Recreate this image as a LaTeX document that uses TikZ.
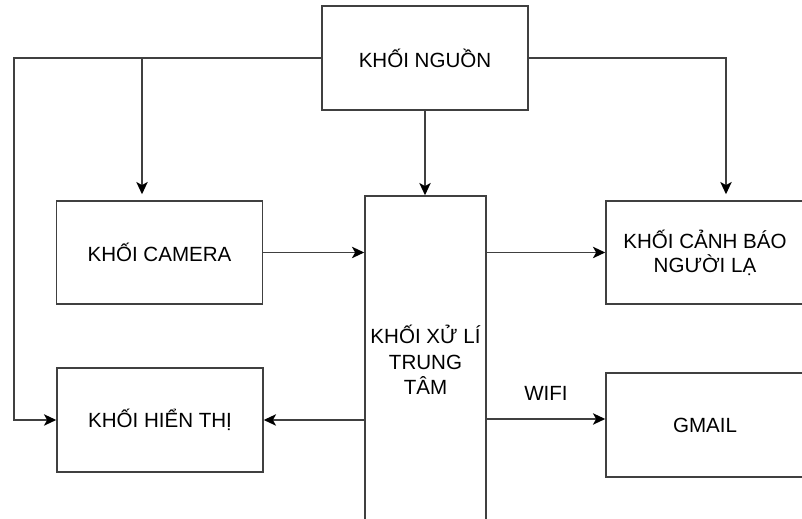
\documentclass[tikz,border=0pt]{standalone}
\usepackage{fontspec}
\setmainfont{Liberation Sans}
\usetikzlibrary{positioning,arrows.meta}

\begin{document}
\begin{tikzpicture}[
  x=0.02cm, y=-0.02cm,
  block/.style={draw=black!75, line width=0.85pt, align=center, inner sep=0pt,
    font=\fontsize{11.7}{14}\selectfont},
  arr/.style={draw=black!75, line width=0.85pt,
    -{Stealth[length=7pt, width=6.5pt, inset=1.8pt, black]}}
]
\useasboundingbox (0,0) rectangle (802,519);
\clip (0,0) rectangle (802,519);
\node[block, minimum width=206*0.02cm, minimum height=104*0.02cm] (nguon) at (425,58) {KHỐI NGUỒN};
\node[block, minimum width=206*0.02cm, minimum height=103*0.02cm] (camera) at (159.5,252.5) {KHỐI CAMERA};
\node[block, minimum width=121*0.02cm, minimum height=328*0.02cm,
  font=\fontsize{11.7}{14.5}\selectfont] (xuli) at (425.5,360) {KHỐI XỬ LÍ\\TRUNG\\TÂM};
\node[block, minimum width=198*0.02cm, minimum height=103*0.02cm,
  font=\fontsize{11.7}{13.6}\selectfont] (canhbao) at (705,252.5) {KHỐI CẢNH BÁO\\NGƯỜI LẠ};
\node[block, minimum width=206*0.02cm, minimum height=104*0.02cm] (hienthi) at (160,420) {KHỐI HIỂN THỊ};
\node[block, minimum width=198*0.02cm, minimum height=104*0.02cm] (gmail) at (705,425) {GMAIL};
\coordinate (lft) at (14,58);
\coordinate (brcam) at (142,58);
\coordinate (brcb) at (726,58);
% nguon feeds the other blocks
\draw[arr] (nguon.west) -- (lft) |- (hienthi.west);
\draw[arr, shorten >=6*0.02cm] (brcam) -- (brcam |- camera.north);
\draw[arr] (nguon.south) -- (nguon.south |- xuli.north);
\draw[arr, shorten >=6*0.02cm] (nguon.east) -- (brcb) -- (brcb |- canhbao.north);
% signal path
\draw[arr] (camera.east) -- (xuli.west |- camera.east);
\draw[arr] (xuli.east |- canhbao.west) -- (canhbao.west);
\draw[arr] (xuli.west |- hienthi.east) -- (hienthi.east);
\draw[arr] (xuli.east |- 0,419) -- node[above=12*0.02cm, font=\fontsize{11.7}{14}\selectfont] (wifi) {WIFI} (gmail.west |- 0,419);
\end{tikzpicture}
\end{document}
